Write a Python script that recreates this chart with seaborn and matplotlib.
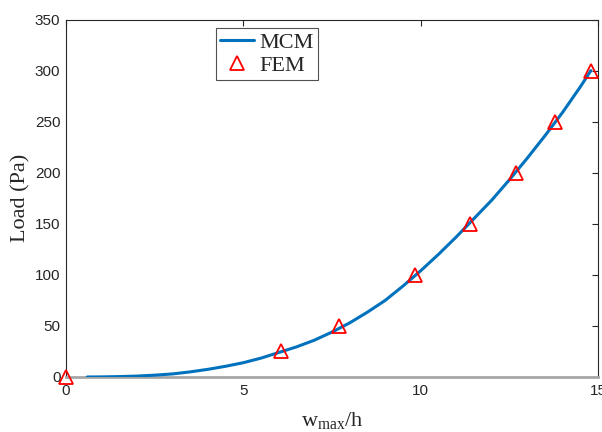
import matplotlib
matplotlib.use("Agg")
import matplotlib.pyplot as plt
import seaborn as sns
import pandas as pd
from matplotlib.lines import Line2D

# MCM curve
mcm_x = [0.6, 1, 1.5, 2, 2.5, 3, 3.5, 4, 4.5, 5, 5.5, 6, 6.5, 7, 7.5, 8, 8.5, 9,
         9.5, 10, 10.5, 11, 11.5, 12, 12.5, 13, 13.5, 14, 14.5, 14.8]
mcm_y = [0, 0.1, 0.4, 0.9, 1.8, 3, 5, 7.5, 10.5, 14, 18.5, 24, 29.5, 36, 44, 53, 63.5, 75,
         89, 104, 120, 137, 155, 173, 193, 214, 236, 259, 284, 300]
# FEM points
fem_x = [0, 6.05, 7.7, 9.85, 11.4, 12.7, 13.8, 14.8]
fem_y = [0, 25, 50, 100, 150, 200, 250, 300]

xticks = [0, 5, 10, 15]
yticks = [0, 50, 100, 150, 200, 250, 300, 350]

sns.set_style("white")
plt.rcParams['font.family'] = ['Liberation Sans', 'DejaVu Sans']
plt.rcParams['mathtext.fontset'] = 'custom'
plt.rcParams['mathtext.rm'] = 'Liberation Serif'
plt.rcParams['mathtext.it'] = 'Liberation Serif:italic'

fig = plt.figure(figsize=(6.02, 4.32), dpi=100)
ax = fig.add_axes([66/602, 1-377/432, (598-66)/602, (377-19.5)/432])

blue = '#0072BD'
mcm = pd.DataFrame({'x': mcm_x, 'y': mcm_y})
fem = pd.DataFrame({'x': fem_x, 'y': fem_y})
sns.lineplot(data=mcm, x='x', y='y', ax=ax, color=blue, linewidth=2.2, zorder=3)
sns.lineplot(data=fem, x='x', y='y', ax=ax, marker='^', linestyle='', ms=10.5,
             mfc='none', mec='red', mew=1.3, color='red', zorder=4, clip_on=False)

ax.set_xlim(0, 15)
ax.set_ylim(0, 350)
ax.set_xticks(xticks)
ax.set_yticks(yticks)
ax.tick_params(direction='in', length=4, width=0.8, top=True, right=True,
               labelsize=11, colors='#262626')
ax.tick_params(axis='x', pad=5)
ax.tick_params(axis='y', pad=4)
for s in ['left', 'top', 'right']:
    ax.spines[s].set_color('#262626')
    ax.spines[s].set_linewidth(0.8)
ax.spines['bottom'].set_color('#a6a6a6')
ax.spines['bottom'].set_linewidth(2)

ax.set_ylabel('Load (Pa)', family='Liberation Serif', fontsize=16, color='#262626', labelpad=3)
ax.set_xlabel(r'w$_{\mathrm{max}}$/h', family='Liberation Serif', fontsize=16, color='#262626', labelpad=9)

handles = [Line2D([], [], color=blue, lw=2.2),
           Line2D([], [], marker='^', linestyle='', ms=10.5, mfc='none', mec='red', mew=1.3)]
leg = ax.legend(handles, ['MCM', 'FEM'], loc='upper left', bbox_to_anchor=(150/532, 1-8.5/357.5),
                prop={'family': 'Liberation Serif', 'size': 16}, frameon=True, fancybox=False,
                edgecolor='#262626', handlelength=1.5, handletextpad=0.25, borderpad=0.2,
                labelspacing=0.1, borderaxespad=0)
leg.get_frame().set_linewidth(0.8)

fig.savefig('out.png', dpi=100)
